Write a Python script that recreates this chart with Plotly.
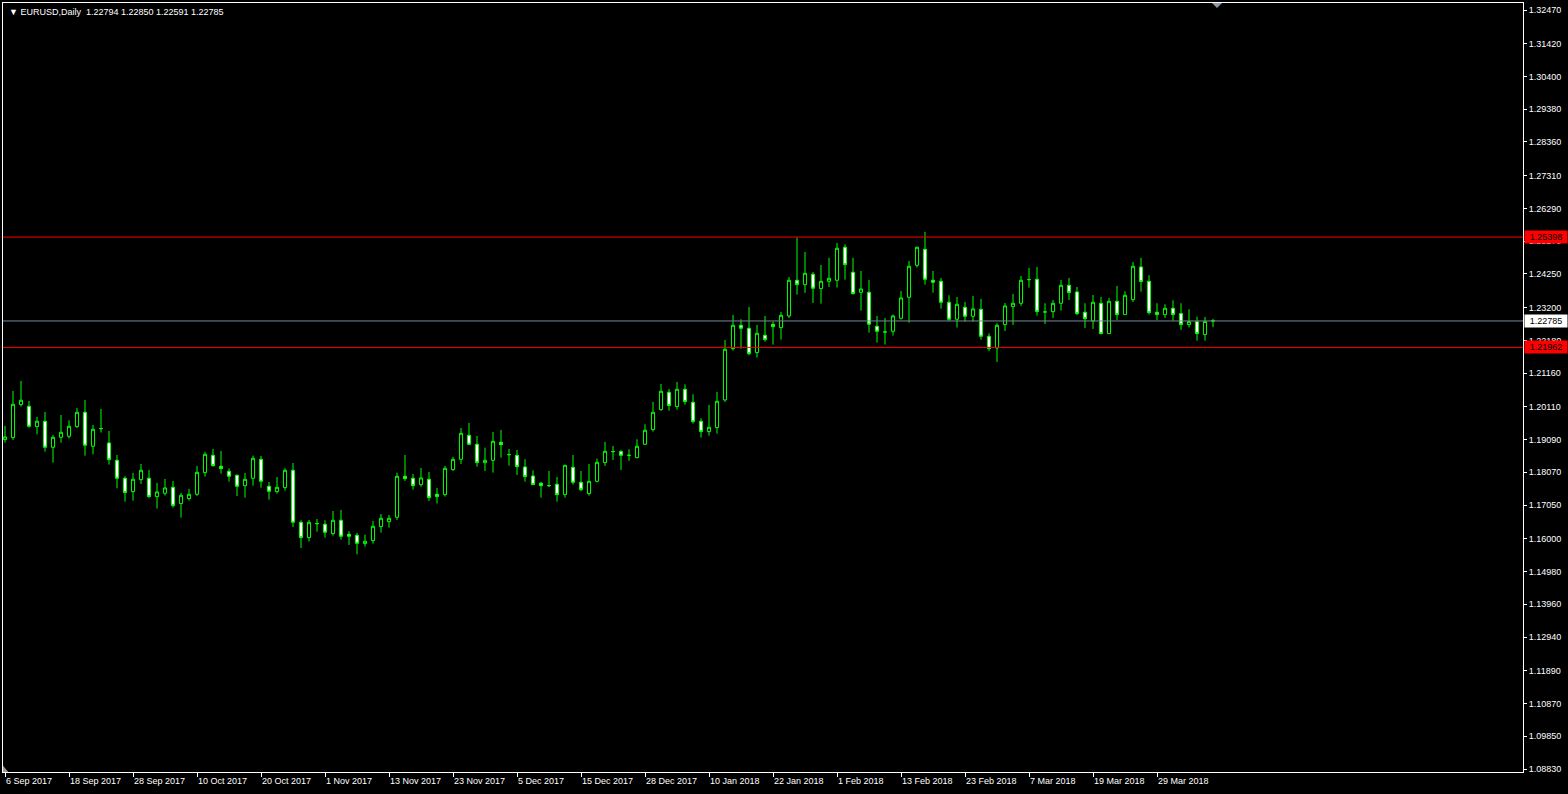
import pandas as pd
import plotly.graph_objects as go

# ---- data (EURUSD daily) ----
holidays = ["2017-12-25", "2018-01-01"]
dates = [d.strftime("%Y-%m-%d") for d in pd.bdate_range("2017-09-06", "2018-04-09")
         if d.strftime("%Y-%m-%d") not in holidays]

opens = [1.19090, 1.19152, 1.20180, 1.20128, 1.19495, 1.19661, 1.18851, 1.19162, 1.19194, 1.19495,
         1.19941, 1.18882, 1.19432, 1.18986, 1.18446, 1.17886, 1.17470, 1.17844, 1.17886, 1.17315,
         1.17419, 1.17605, 1.17097, 1.17252, 1.17387, 1.18061, 1.18601, 1.18258, 1.18103, 1.17978,
         1.17656, 1.17885, 1.18476, 1.17636, 1.17469, 1.17594, 1.18134, 1.16514, 1.16037, 1.16473,
         1.16452, 1.16162, 1.16577, 1.16141, 1.16110, 1.15850, 1.15944, 1.16380, 1.16535, 1.16670,
         1.17947, 1.17885, 1.17688, 1.17854, 1.17387, 1.17376, 1.18155, 1.18476, 1.19224, 1.18944,
         1.18373, 1.18445, 1.19006, 1.18622, 1.18601, 1.18238, 1.17957, 1.17729, 1.17656, 1.17698,
         1.17376, 1.18227, 1.17760, 1.17407, 1.17791, 1.18373, 1.18716, 1.18716, 1.18601, 1.18529,
         1.18944, 1.19401, 1.20024, 1.20564, 1.20118, 1.20657, 1.20252, 1.19661, 1.19339, 1.19464,
         1.20325, 1.21924, 1.22650, 1.22557, 1.21799, 1.22339, 1.22681, 1.22578, 1.22941, 1.24052,
         1.23917, 1.24239, 1.23793, 1.24021, 1.24052, 1.25080, 1.24301, 1.23678, 1.23678, 1.22620,
         1.22443, 1.22464, 1.22869, 1.23523, 1.24519, 1.25017, 1.24052, 1.24021, 1.23367, 1.22838,
         1.23211, 1.22931, 1.23149, 1.22308, 1.21945, 1.22672, 1.23232, 1.23336, 1.24073, 1.24083,
         1.23066, 1.23076, 1.23336, 1.23896, 1.23689, 1.23056, 1.22786, 1.23336, 1.22391, 1.23398,
         1.22983, 1.23450, 1.24467, 1.24021, 1.23056, 1.22983, 1.23180, 1.23014, 1.22672, 1.22765,
         1.22360, 1.22794]
highs = [1.19515, 1.20605, 1.20917, 1.20294, 1.19796, 1.19951, 1.19235, 1.19858, 1.19692, 1.20076,
         1.20325, 1.19546, 1.20045, 1.19360, 1.18612, 1.17948, 1.18052, 1.18332, 1.18145, 1.17740,
         1.17865, 1.17803, 1.17429, 1.17553, 1.18269, 1.18705, 1.18798, 1.18736, 1.18196, 1.18009,
         1.18051, 1.18590, 1.18580, 1.17770, 1.17926, 1.18196, 1.18362, 1.16577, 1.16587, 1.16618,
         1.16577, 1.16867, 1.16899, 1.16234, 1.16182, 1.16130, 1.16556, 1.16774, 1.16743, 1.18061,
         1.18611, 1.18020, 1.18207, 1.18082, 1.17584, 1.18269, 1.18549, 1.19452, 1.19608, 1.19203,
         1.18840, 1.19328, 1.19390, 1.18798, 1.18767, 1.18476, 1.18134, 1.17771, 1.18113, 1.17926,
         1.18300, 1.18611, 1.18113, 1.18331, 1.18497, 1.19017, 1.18892, 1.18768, 1.18788, 1.19100,
         1.19567, 1.20263, 1.20823, 1.20668, 1.20886, 1.20813, 1.20502, 1.19754, 1.20169, 1.20574,
         1.22194, 1.22972, 1.22837, 1.23221, 1.22661, 1.22941, 1.22764, 1.23065, 1.24156, 1.25381,
         1.24934, 1.24312, 1.24530, 1.24748, 1.25215, 1.25173, 1.24748, 1.24343, 1.24062, 1.22941,
         1.22879, 1.22983, 1.23720, 1.24654, 1.25100, 1.25557, 1.24343, 1.24125, 1.23585, 1.23533,
         1.23377, 1.23564, 1.23471, 1.22402, 1.22713, 1.23346, 1.23626, 1.24187, 1.24436, 1.24467,
         1.23336, 1.23440, 1.24062, 1.24125, 1.23844, 1.23336, 1.23595, 1.23533, 1.23502, 1.23876,
         1.23710, 1.24623, 1.24748, 1.24208, 1.23336, 1.23305, 1.23429, 1.23336, 1.23149, 1.22921,
         1.22910, 1.22850]
lows = [1.18996, 1.19079, 1.20117, 1.19463, 1.19256, 1.18716, 1.18373, 1.18996, 1.19121, 1.19453,
        1.18591, 1.18633, 1.19308, 1.18311, 1.17574, 1.17159, 1.17190, 1.17709, 1.17273, 1.16941,
        1.17346, 1.16972, 1.16661, 1.17190, 1.17335, 1.17937, 1.18248, 1.18030, 1.17781, 1.17334,
        1.17283, 1.17656, 1.17594, 1.17220, 1.17407, 1.17501, 1.16369, 1.15715, 1.15912, 1.16224,
        1.16037, 1.16099, 1.15975, 1.15809, 1.15518, 1.15757, 1.15850, 1.16193, 1.16348, 1.16587,
        1.17802, 1.17532, 1.17625, 1.17179, 1.17096, 1.17314, 1.18113, 1.18331, 1.18923, 1.18248,
        1.18113, 1.18061, 1.18528, 1.18279, 1.17989, 1.17781, 1.17677, 1.17283, 1.17615, 1.17158,
        1.17283, 1.17688, 1.17480, 1.17345, 1.17760, 1.18269, 1.18456, 1.18145, 1.18425, 1.18508,
        1.18923, 1.19339, 1.19983, 1.19993, 1.20024, 1.20180, 1.19588, 1.19152, 1.19214, 1.19277,
        1.20263, 1.21861, 1.21924, 1.21716, 1.21643, 1.22142, 1.22048, 1.22204, 1.22879, 1.23606,
        1.23658, 1.23346, 1.23325, 1.23844, 1.23824, 1.24073, 1.23606, 1.23107, 1.22422, 1.22111,
        1.22049, 1.22329, 1.22827, 1.22734, 1.24446, 1.23917, 1.23668, 1.23170, 1.22786, 1.22578,
        1.22765, 1.22765, 1.22204, 1.21851, 1.21509, 1.22474, 1.22661, 1.23253, 1.23824, 1.22952,
        1.22692, 1.22879, 1.23107, 1.23440, 1.22973, 1.22568, 1.22537, 1.22370, 1.22381, 1.22817,
        1.22973, 1.23377, 1.23699, 1.22983, 1.22817, 1.22879, 1.22796, 1.22505, 1.22578, 1.22173,
        1.22173, 1.22591]
closes = [1.19173, 1.20190, 1.20315, 1.19505, 1.19661, 1.18851, 1.19162, 1.19318, 1.19505, 1.19941,
          1.18913, 1.19411, 1.19432, 1.18467, 1.17886, 1.17439, 1.17854, 1.18135, 1.17315, 1.17460,
          1.17585, 1.17034, 1.17356, 1.17387, 1.18071, 1.18632, 1.18279, 1.18186, 1.17947, 1.17636,
          1.17853, 1.18507, 1.17791, 1.17480, 1.17604, 1.18134, 1.16514, 1.16037, 1.16514, 1.16473,
          1.16203, 1.16577, 1.16079, 1.16079, 1.15861, 1.15923, 1.16390, 1.16639, 1.16639, 1.17947,
          1.17874, 1.17656, 1.17895, 1.17283, 1.17314, 1.18196, 1.18476, 1.19286, 1.18944, 1.18373,
          1.18445, 1.19037, 1.18933, 1.18622, 1.18248, 1.17937, 1.17688, 1.17656, 1.17656, 1.17376,
          1.18290, 1.17760, 1.17532, 1.17791, 1.18383, 1.18726, 1.18716, 1.18601, 1.18601, 1.18882,
          1.19380, 1.19941, 1.20595, 1.20149, 1.20657, 1.20273, 1.19650, 1.19339, 1.19474, 1.20284,
          1.21903, 1.22650, 1.22557, 1.21768, 1.22401, 1.22204, 1.22609, 1.22962, 1.24052, 1.23917,
          1.24270, 1.23803, 1.24021, 1.24114, 1.25049, 1.24540, 1.23637, 1.23782, 1.22682, 1.22464,
          1.22443, 1.22941, 1.23502, 1.24488, 1.25080, 1.24083, 1.23990, 1.23367, 1.22838, 1.23305,
          1.22931, 1.23159, 1.22308, 1.21924, 1.22651, 1.23253, 1.23336, 1.24052, 1.24073, 1.23076,
          1.23066, 1.23336, 1.23896, 1.23668, 1.23014, 1.22858, 1.23367, 1.22391, 1.23398, 1.22983,
          1.23585, 1.24488, 1.24011, 1.23045, 1.22983, 1.23180, 1.22983, 1.22672, 1.22765, 1.22391,
          1.22765, 1.22785]

tick_dates = ["2017-09-06", "2017-09-18", "2017-09-28", "2017-10-10", "2017-10-20", "2017-11-01",
              "2017-11-13", "2017-11-23", "2017-12-05", "2017-12-15", "2017-12-28", "2018-01-10",
              "2018-01-22", "2018-02-01", "2018-02-13", "2018-02-23", "2018-03-07", "2018-03-19",
              "2018-03-29"]
tick_labels = ["6 Sep 2017", "18 Sep 2017", "28 Sep 2017", "10 Oct 2017", "20 Oct 2017", "1 Nov 2017",
               "13 Nov 2017", "23 Nov 2017", "5 Dec 2017", "15 Dec 2017", "28 Dec 2017", "10 Jan 2018",
               "22 Jan 2018", "1 Feb 2018", "13 Feb 2018", "23 Feb 2018", "7 Mar 2018", "19 Mar 2018",
               "29 Mar 2018"]
price_ticks = [1.32470, 1.31420, 1.30400, 1.29380, 1.28360, 1.27310, 1.26290, 1.25270, 1.24250,
               1.23200, 1.22180, 1.21160, 1.20110, 1.19090, 1.18070, 1.17050, 1.16000, 1.14980,
               1.13960, 1.12940, 1.11890, 1.10870, 1.09850, 1.08830]
resistance = 1.25398
support = 1.21962
bid = 1.22785
symbol = "EURUSD,Daily"

FONT = "Liberation Sans, Arial, sans-serif"
GREEN = "#00FF00"

fig = go.Figure(go.Candlestick(
    x=dates, open=opens, high=highs, low=lows, close=closes,
    increasing=dict(line=dict(color=GREEN, width=1), fillcolor="#000000"),
    decreasing=dict(line=dict(color=GREEN, width=1), fillcolor="#FFFFFF"),
    whiskerwidth=0, hoverinfo="skip", showlegend=False,
))

for lvl, col in [(resistance, "#FF0000"), (support, "#FF0000"), (bid, "#778899")]:
    fig.add_shape(type="line", xref="paper", x0=0, x1=1, yref="y", y0=lvl, y1=lvl,
                  line=dict(color=col, width=1))

# price labels on the right scale
for lvl, bg in [(resistance, "#FF0000"), (support, "#FF0000"), (bid, "#FFFFFF")]:
    fig.add_annotation(x=1, xref="paper", xanchor="left", xshift=1, y=lvl, yref="y",
                       text=f"{lvl:.5f}", showarrow=False, bgcolor=bg, width=40, align="center",
                       borderpad=1, font=dict(family=FONT, size=9, color="#000000"))

# header text
fig.add_annotation(x=0, xref="paper", xanchor="left", xshift=4, y=1, yref="paper", yanchor="top",
                   yshift=-2, showarrow=False,
                   text=f"▼ {symbol}  " + " ".join(f"{v:.5f}" for v in
                                                    [opens[-1], highs[-1], lows[-1], closes[-1]]),
                   font=dict(family=FONT, size=9, color="#FFFFFF"))

# chart-shift marker and scale-fix marker
fig.add_shape(type="path", xref="paper", yref="paper",
              path="M 0.7954 1 L 0.8020 1 L 0.7987 0.9935 Z",
              fillcolor="#8C9AA8", line=dict(width=0))
fig.add_shape(type="path", xref="paper", yref="paper",
              path="M 0.0 0.0 L 0.0035 0.0 L 0.0 0.008 Z",
              fillcolor="#9A9A9A", line=dict(width=0))

fig.update_layout(
    width=1568, height=794,
    margin=dict(l=3, r=45, t=3, b=22, autoexpand=False),
    paper_bgcolor="#000000", plot_bgcolor="#000000",
    boxgap=0.45,
    showlegend=False,
    font=dict(family=FONT, size=9, color="#FFFFFF"),
    xaxis=dict(
        type="category", range=[-0.25, 189.75], rangeslider=dict(visible=False),
        tickmode="array", tickvals=tick_dates, ticktext=tick_labels,
        ticks="outside", ticklen=4, tickcolor="#FFFFFF", ticklabelposition="outside right",
        showline=True, linecolor="#FFFFFF", linewidth=1, mirror=True,
        showgrid=False, zeroline=False, automargin=False,
        tickfont=dict(family=FONT, size=9, color="#FFFFFF"),
    ),
    yaxis=dict(
        side="right", range=[1.08737, 1.32688],
        tickmode="array", tickvals=price_ticks, ticktext=[f"{v:.5f}" for v in price_ticks],
        ticks="outside", ticklen=3, tickcolor="#FFFFFF",
        showline=True, linecolor="#FFFFFF", linewidth=1, mirror=True,
        showgrid=False, zeroline=False, automargin=False,
        tickfont=dict(family=FONT, size=9, color="#FFFFFF"),
    ),
)

fig.write_html("out.html", config={"displayModeBar": False},
               post_script="document.body.style.margin='0';"
                           "document.body.style.background='#000000';")
